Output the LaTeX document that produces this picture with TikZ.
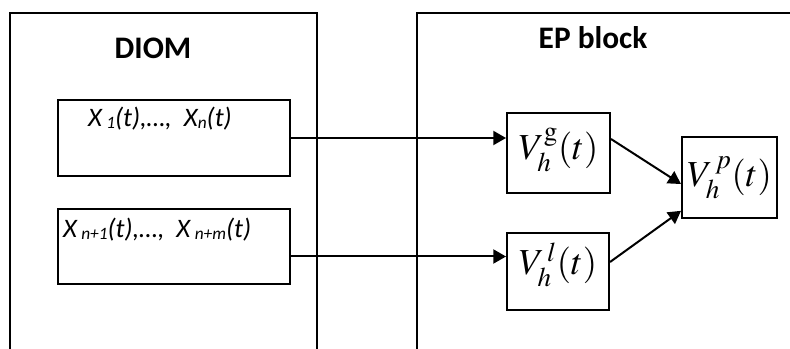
\documentclass[tikz,border=0pt]{standalone}
\usepackage{mathptmx}
\usepackage{fontspec}
\setsansfont{Carlito}
\usetikzlibrary{arrows.meta}

\newcommand{\xsub}[1]{\raisebox{-1.5pt}{\fontsize{13}{14}\selectfont #1}}

\begin{document}
\begin{tikzpicture}[x=0.75pt, y=-0.75pt, line width=1.5pt]
  \tikzset{>={Triangle[length=9.5pt,width=10.5pt]}}
  \tikzset{
    inbox/.style={draw, minimum width=174pt, minimum height=57pt},
    vbox/.style={draw, inner sep=0pt, font=\fontsize{27.5}{32}\selectfont},
    title/.style={font=\sffamily\bfseries\fontsize{23.5}{28}\selectfont},
    xlabel/.style={anchor=west, inner sep=0pt, font=\sffamily\itshape\fontsize{20}{24}\selectfont}
  }
  \useasboundingbox (0,0) rectangle (790,349);
  % outer blocks, open at the bottom
  \draw (10,349) |- (317,13) -- (317,349);
  \draw (417,349) |- (790,13);
  \node [title] (diom) at (153,48) {DIOM};
  \node [title] (ep) at (593,38) {EP block};
  %
  \node [inbox] (in1) at (174,138) {};
  \node [inbox, minimum height=56pt] (in2) at (174,246.5) {};
  \node [xlabel] (x1) at (87,119) {X\,\xsub{1}(t),\dots,~ X\xsub{n}(t)};
  \node [xlabel] (x2) at (62,230) {X\,\xsub{n+1}(t),\dots,~ X\,\xsub{n+m}(t)};
  %
  \node [vbox, minimum width=77.25pt, minimum height=60pt, text depth=14pt] (vg)
    at (558.5,153) {$V_h^{\mathrm{g}}(t)$};
  \node [vbox, minimum width=76.5pt, minimum height=57.75pt, text depth=19pt] (vl)
    at (558,271.5) {$V_h^{\,l}(t)$};
  \node [vbox, minimum width=71.25pt, minimum height=60.75pt] (vp) at (729.5,177.5)
    {$V_h^{\,p}(t)$};
  %
  \coordinate (a2) at ([yshift=-7.5pt]in2.east);
  \draw [->] (in1.east) -- (in1.east -| vg.west);
  \draw [->] (a2) -- (a2 -| vl.west);
  \draw [->] ([yshift=10.5pt]vg.east) -- ([yshift=-4.9pt]vp.west);
  \draw [->] ([yshift=7.1pt]vl.east) -- ([yshift=-25pt]vp.west);
\end{tikzpicture}
\end{document}
